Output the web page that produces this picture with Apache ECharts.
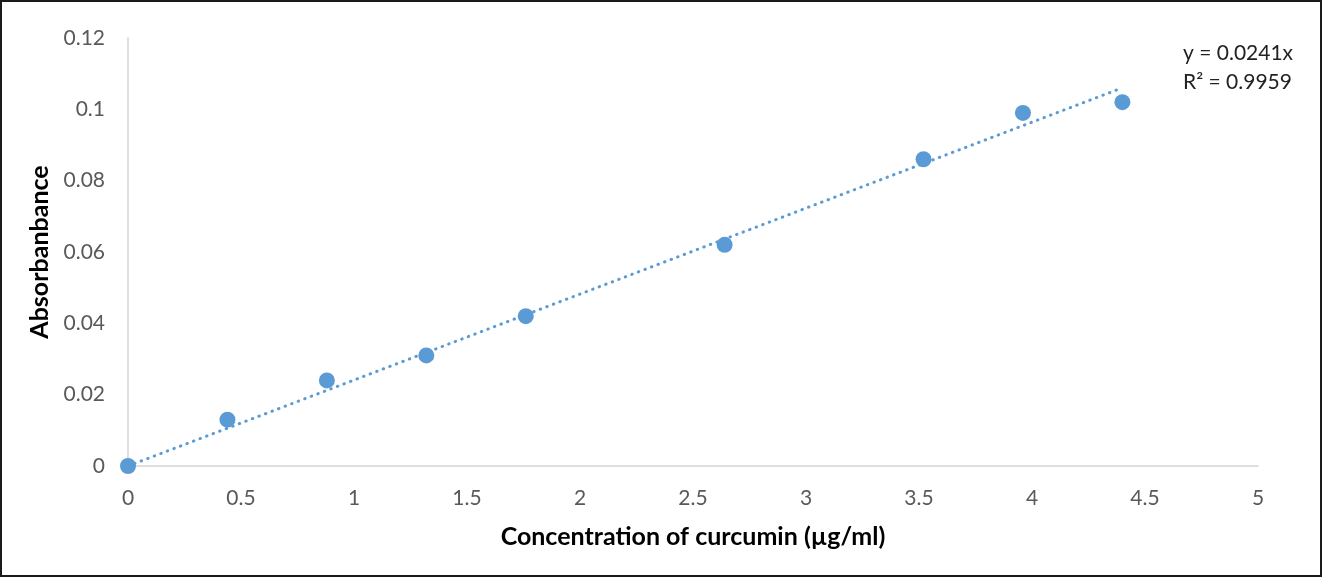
<!DOCTYPE html>
<html>
<head>
<meta charset="utf-8">
<script src="https://cdn.jsdelivr.net/npm/echarts@6/dist/echarts.min.js"></script>
<style>
  html, body { margin: 0; padding: 0; background: #fff; }
  #frame { width: 1322px; height: 577px; box-sizing: border-box; border: 2px solid #1a1a1a; position: relative; }
  #chart { position: absolute; left: -2px; top: -2px; width: 1324px; height: 577px; }
</style>
</head>
<body>
<div id="frame"><div id="chart"></div></div>
<script>
// Calibration data: curcumin concentration (µg/ml) vs absorbance
const concentration = [0, 0.44, 0.88, 1.32, 1.76, 2.64, 3.52, 3.96, 4.4];
const absorbance    = [0, 0.013, 0.024, 0.031, 0.042, 0.062, 0.086, 0.099, 0.102];

// Linear fit through origin
const slope = 0.0241;
const rSquared = 0.9959;
const fitRange = [0, 4.4];

const xTicks = [0, 0.5, 1, 1.5, 2, 2.5, 3, 3.5, 4, 4.5, 5];
const yTicks = [0, 0.02, 0.04, 0.06, 0.08, 0.1, 0.12];

const pointData = concentration.map((c, i) => [c, absorbance[i]]);
const fitData = fitRange.map(x => [x, +(slope * x).toFixed(5)]);

const FONT = 'Lato, "Open Sans", sans-serif';
const BLUE = '#5B9BD5';

const chart = echarts.init(document.getElementById('chart'), null, { renderer: 'canvas' });
chart.setOption({
  animation: false,
  backgroundColor: 'transparent',
  grid: { left: 128, top: 38, right: 66, bottom: 111, containLabel: false },
  xAxis: {
    type: 'value',
    min: xTicks[0], max: xTicks[xTicks.length - 1], interval: 0.5,
    name: 'Concentration of curcumin (µg/ml)',
    nameLocation: 'middle', nameGap: 58,
    nameTextStyle: { fontFamily: FONT, fontSize: 25, fontWeight: 'bold', color: '#000' },
    axisLine: { show: true, lineStyle: { color: '#d4d4d4', width: 1.5 } },
    axisTick: { show: false },
    splitLine: { show: false },
    axisLabel: { color: '#595959', fontFamily: FONT, fontSize: 21, margin: 22,
      formatter: v => String(v) }
  },
  yAxis: {
    type: 'value',
    min: yTicks[0], max: yTicks[yTicks.length - 1], interval: 0.02,
    name: 'Absorbanbance',
    nameLocation: 'middle', nameGap: 75, nameRotate: 90,
    nameTextStyle: { fontFamily: FONT, fontSize: 25, fontWeight: 'bold', color: '#000' },
    axisLine: { show: true, lineStyle: { color: '#d4d4d4', width: 1.5 } },
    axisTick: { show: false },
    splitLine: { show: false },
    axisLabel: { color: '#595959', fontFamily: FONT, fontSize: 21, margin: 23,
      formatter: v => String(+v.toFixed(2)) }
  },
  series: [
    {
      type: 'line',
      data: fitData,
      symbol: 'none',
      lineStyle: { color: BLUE, width: 3, type: [0.5, 6.5], cap: 'round' },
      z: 2
    },
    {
      type: 'scatter',
      data: pointData,
      symbol: 'circle',
      symbolSize: 16,
      itemStyle: { color: BLUE, opacity: 1 },
      z: 3
    }
  ],
  graphic: [
    {
      type: 'text', left: 1183, top: 43,
      style: { text: 'y = ' + slope + 'x', fontFamily: FONT, fontSize: 21, fill: '#222' }
    },
    {
      type: 'text', left: 1183, top: 72,
      style: { text: 'R² = ' + rSquared, fontFamily: FONT, fontSize: 21, fill: '#222' }
    }
  ]
});
</script>
</body>
</html>
